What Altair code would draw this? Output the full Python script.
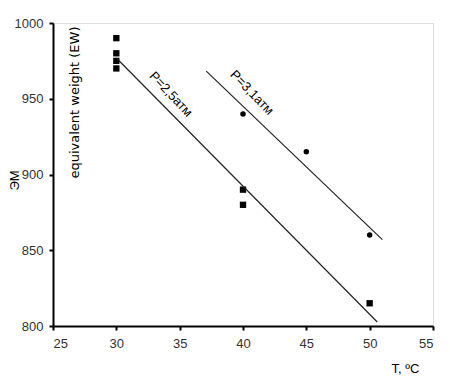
import altair as alt
import pandas as pd

# Data
t_25 = [30, 30, 30, 30, 40, 40, 50]
ew_25 = [990, 980, 975, 970, 890, 880, 815]
t_31 = [40, 45, 50]
ew_31 = [940, 915, 860]
fit_extent_25 = [30, 50.6]
fit_extent_31 = [37.1, 51.0]

labels = ["P=2,5атм", "P=3,1атм"]
label_t = [34.3, 40.7]
label_ew = [953, 954]
label_angle = [47, 46]

x_ticks = [25, 30, 35, 40, 45, 50, 55]
y_ticks = [800, 850, 900, 950, 1000]

df25 = pd.DataFrame({"T": t_25, "EW": ew_25})
df31 = pd.DataFrame({"T": t_31, "EW": ew_31})
dlab = pd.DataFrame({"T": label_t, "EW": label_ew, "label": labels, "angle": label_angle})
dnote = pd.DataFrame({"T": [26.75], "EW": [947.5], "label": ["equivalent weight (EW)"]})

FONT = "Liberation Sans"

xs = alt.Scale(domain=[25, 55], nice=False)
ys = alt.Scale(domain=[800, 1000], nice=False)

xenc = alt.X("T:Q", scale=xs, axis=alt.Axis(
    values=x_ticks, format="d", title="T, ºC", grid=False, domainColor="black", domainWidth=2,
    tickColor="black", tickWidth=2, tickSize=4, labelFont=FONT, labelFontSize=13,
    labelColor="#333", labelPadding=7, titleFont=FONT, titleFontSize=13,
    titleFontWeight="normal", titleColor="black", titleX=352, titleY=42,
    titleAlign="center", titleBaseline="middle"))
yenc = alt.Y("EW:Q", scale=ys, axis=alt.Axis(
    values=y_ticks, format="d", title="ЭМ", grid=False, domainColor="black", domainWidth=2,
    tickColor="black", tickWidth=2, tickSize=4, labelFont=FONT, labelFontSize=13,
    labelColor="#333", labelPadding=6, titleFont=FONT, titleFontSize=13,
    titleFontWeight="normal", titleColor="black", titleX=-39, titleY=157,
    titleAlign="center", titleBaseline="middle"))

sq = alt.Chart(df25).mark_point(shape="square", filled=True, color="black", size=40, opacity=1).encode(x=xenc, y=yenc)
ci = alt.Chart(df31).mark_circle(color="black", size=30, opacity=1).encode(x="T:Q", y="EW:Q")

line25 = alt.Chart(df25).transform_regression("T", "EW", extent=fit_extent_25).mark_line(
    color="#222", strokeWidth=1.2).encode(x="T:Q", y="EW:Q")
line31 = alt.Chart(df31).transform_regression("T", "EW", extent=fit_extent_31).mark_line(
    color="#222", strokeWidth=1.2).encode(x="T:Q", y="EW:Q")

lab1 = alt.Chart(dlab.iloc[[0]]).mark_text(font=FONT, fontSize=13, color="black", angle=label_angle[0],
    align="center", baseline="middle").encode(x="T:Q", y="EW:Q", text="label:N")
lab2 = alt.Chart(dlab.iloc[[1]]).mark_text(font=FONT, fontSize=13, color="black", angle=label_angle[1],
    align="center", baseline="middle").encode(x="T:Q", y="EW:Q", text="label:N")
note = alt.Chart(dnote).mark_text(font="DejaVu Sans", fontSize=13, color="black", angle=270,
    align="center", baseline="middle").encode(x="T:Q", y="EW:Q", text="label:N")

chart = alt.layer(sq, ci, line25, line31, lab1, lab2, note).properties(
    width=380, height=303,
    autosize=alt.AutoSizeParams(type="none"),
    padding={"left": 45, "top": 15, "right": 9, "bottom": 50},
).configure_view(stroke=None).configure(background="white")

chart.save("out.html", embed_options={"renderer": "svg", "actions": False})
